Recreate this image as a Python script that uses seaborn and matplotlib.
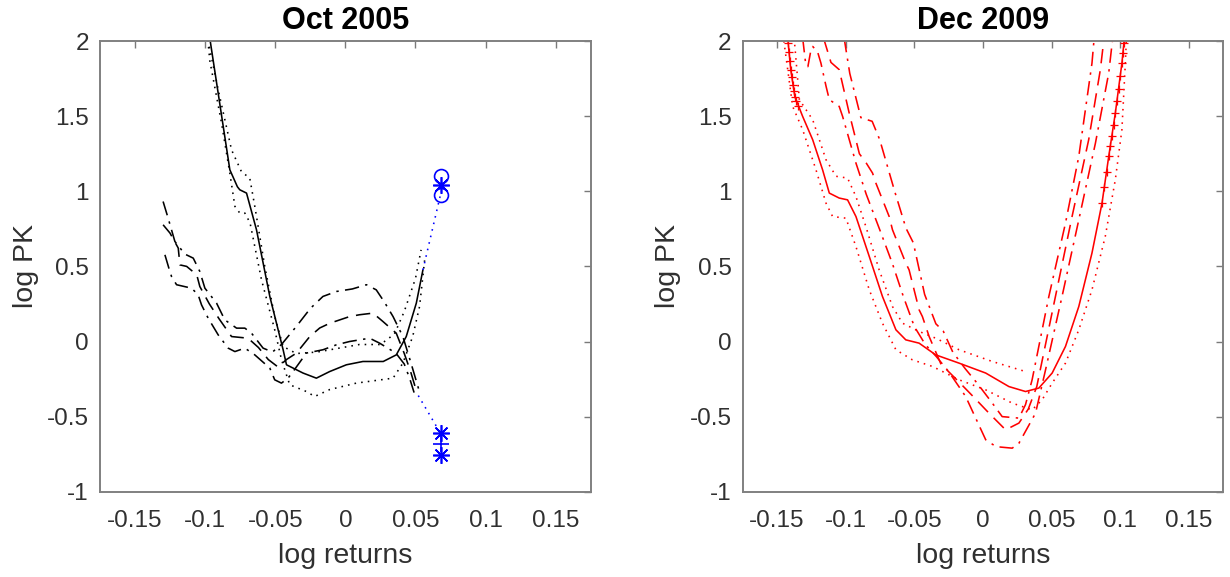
import matplotlib
matplotlib.use("Agg")
import matplotlib.pyplot as plt
import seaborn as sns

# ---------------- data: Oct 2005 (left) ----------------
oct_solid_x = [-0.0972, -0.0824, -0.0770, -0.0753, -0.0705, -0.0634, -0.0539, -0.0444, -0.0420, -0.0302,
               -0.0207, -0.0112, 0.0007, 0.0125, 0.0270, 0.0363, 0.0434, 0.0506, 0.0553]
oct_solid_y = [2.05, 1.143, 1.03, 1.01, 0.988, 0.744, 0.30, -0.055, -0.155, -0.21,
               -0.244, -0.20, -0.155, -0.133, -0.133, -0.089, 0.033, 0.256, 0.477]

oct_upper_x = [-0.0990, -0.0907, -0.0812, -0.0741, -0.0682, -0.0646, -0.0575, -0.0504, -0.0444, -0.0350,
               -0.0200, -0.0050, 0.0100, 0.0250, 0.0350, 0.0420, 0.0500, 0.0540]
oct_upper_y = [2.05, 1.676, 1.276, 1.13, 1.088, 0.90, 0.50, 0.166, -0.033, -0.08,
               -0.07, -0.045, -0.02, -0.02, 0.05, 0.20, 0.42, 0.61]

oct_lower_x = [-0.0985, -0.0967, -0.0883, -0.0824, -0.0788, -0.0753, -0.0717, -0.0680, -0.0598, -0.0504,
               -0.0456, -0.0397, -0.0278, -0.0219, -0.0112, 0.0078, 0.0340, 0.0410, 0.0480, 0.0529, 0.0565]
oct_lower_y = [2.05, 1.87, 1.453, 1.12, 0.90, 0.855, 0.855, 0.79, 0.41, 0.078,
               -0.12, -0.288, -0.333, -0.366, -0.32, -0.277, -0.244, -0.144, 0.033, 0.233, 0.54]

oct_m1_x = [-0.1300, -0.1264, -0.1216, -0.1145, -0.1085, -0.1038, -0.1002, -0.0919, -0.0860, -0.0776,
            -0.0717, -0.0670, -0.0587, -0.0520, -0.0456, -0.0350, -0.0250, -0.0160, -0.0064, 0.0050,
            0.0150, 0.0220, 0.0280, 0.0340, 0.0410, 0.0470, 0.0530]
oct_m1_y = [0.932, 0.821, 0.666, 0.582, 0.555, 0.466, 0.355, 0.256, 0.144, 0.089,
            0.089, 0.056, -0.044, -0.07, -0.02, 0.10, 0.22, 0.30, 0.333, 0.35,
            0.378, 0.344, 0.26, 0.166, 0.033, -0.15, -0.34]

oct_m2_x = [-0.1300, -0.1251, -0.1192, -0.1180, -0.1132, -0.1060, -0.1038, -0.0970, -0.0900, -0.0812,
            -0.0694, -0.0620, -0.0550, -0.0480, -0.0420, -0.0349, -0.0254, -0.0183, -0.0110, 0.0030,
            0.0100, 0.0197, 0.0268, 0.0363, 0.0420, 0.0465, 0.0510]
oct_m2_y = [0.777, 0.722, 0.622, 0.51, 0.50, 0.444, 0.366, 0.25, 0.15, 0.033,
            0.022, -0.04, -0.12, -0.17, -0.12, -0.077, 0.033, 0.09, 0.122, 0.166,
            0.178, 0.189, 0.133, 0.055, -0.08, -0.20, -0.34]

oct_m3_x = [-0.1287, -0.1259, -0.1240, -0.1204, -0.1097, -0.1050, -0.1026, -0.0979, -0.0943, -0.0907,
            -0.0836, -0.0788, -0.0717, -0.0646, -0.0539, -0.0504, -0.0456, -0.0409, -0.0373, -0.0278,
            -0.0160, -0.0064, 0.0030, 0.0173, 0.0244, 0.0360, 0.0420, 0.0460, 0.0490]
oct_m3_y = [0.577, 0.489, 0.433, 0.378, 0.355, 0.311, 0.244, 0.156, 0.10, 0.044,
            -0.044, -0.067, -0.044, -0.089, -0.177, -0.255, -0.277, -0.244, -0.20, -0.077,
            -0.055, -0.022, 0.0, 0.022, -0.011, -0.077, -0.15, -0.25, -0.34]

oct_ext_up_x = [0.0553, 0.0684]
oct_ext_up_y = [0.477, 1.0]
oct_ext_dn_x = [0.0520, 0.0684]
oct_ext_dn_y = [-0.36, -0.62]
oct_circ_x = [0.0684, 0.0684]
oct_circ_y = [1.10, 0.977]
oct_star_x = [0.0684, 0.0684, 0.0684]
oct_star_y = [1.043, -0.61, -0.754]
oct_plus_x = [0.0684]
oct_plus_y = [-0.68]

# ---------------- data: Dec 2009 (right) ----------------
dec_solid_x = [-0.1422, -0.1400, -0.1370, -0.1313, -0.1240, -0.1168, -0.1119, -0.1047, -0.0986, -0.0925,
               -0.0828, -0.0732, -0.0634, -0.0562, -0.0465, -0.0344, -0.0174, 0.0020, 0.0189, 0.0310,
               0.0407, 0.0504, 0.0601, 0.0698, 0.0794, 0.0867, 0.0916, 0.0964, 0.1012, 0.1030]
dec_solid_y = [2.02, 1.81, 1.63, 1.498, 1.343, 1.143, 0.988, 0.955, 0.943, 0.832,
               0.566, 0.30, 0.078, 0.011, -0.011, -0.089, -0.144, -0.21, -0.30, -0.333,
               -0.31, -0.21, -0.033, 0.233, 0.589, 0.921, 1.232, 1.52, 1.853, 2.02]

dec_upper_x = [-0.1375, -0.1337, -0.1240, -0.1143, -0.1070, -0.0986, -0.0925, -0.0853, -0.0756, -0.0659,
               -0.0586, -0.0465, -0.0344, -0.0174, 0.0068, 0.0310]
dec_upper_y = [2.02, 1.61, 1.476, 1.21, 1.10, 1.088, 0.965, 0.766, 0.477, 0.233,
               0.122, 0.067, 0.022, -0.055, -0.133, -0.20]

dec_lower_x = [-0.1450, -0.1386, -0.1313, -0.1216, -0.1143, -0.1095, -0.0998, -0.0925, -0.0828, -0.0732,
               -0.0634, -0.0514, -0.0368, -0.0174, 0.0020, 0.0213, 0.0358, 0.0431, 0.0504, 0.0601,
               0.0698, 0.0794, 0.0891, 0.0964, 0.1012, 0.1037, 0.1045]
dec_lower_y = [2.0, 1.565, 1.41, 1.143, 0.921, 0.832, 0.821, 0.632, 0.344, 0.122,
               -0.055, -0.122, -0.166, -0.255, -0.322, -0.41, -0.455, -0.388, -0.277, -0.144,
               0.078, 0.344, 0.70, 1.077, 1.41, 1.853, 2.02]

dec_m1_x = [-0.1011, -0.0970, -0.0889, -0.0807, -0.0752, -0.0643, -0.0561, -0.0507, -0.0425, -0.0343,
            -0.0289, -0.0220, -0.0130, -0.0040, 0.0068, 0.0140, 0.0262, 0.0310, 0.0358, 0.0480,
            0.0601, 0.0698, 0.0794, 0.0810]
dec_m1_y = [2.02, 1.785, 1.49, 1.466, 1.344, 1.0, 0.755, 0.657, 0.314, 0.118,
            0.069, -0.07, -0.18, -0.28, -0.41, -0.50, -0.51, -0.42, -0.255, 0.30,
            0.788, 1.232, 1.853, 2.02]

dec_m2_x = [-0.1161, -0.1107, -0.1047, -0.0974, -0.0900, -0.0850, -0.0804, -0.0780, -0.0683, -0.0659,
            -0.0562, -0.0538, -0.0465, -0.0441, -0.0392, -0.0306, -0.0174, -0.0078, 0.0044, 0.0165,
            0.0262, 0.0330, 0.0392, 0.0528, 0.0649, 0.0770, 0.0855, 0.0882]
dec_m2_y = [2.02, 1.858, 1.81, 1.52, 1.25, 1.188, 1.121, 1.055, 0.832, 0.744,
            0.522, 0.477, 0.211, 0.166, 0.033, -0.15, -0.27, -0.36, -0.477, -0.588,
            -0.543, -0.45, -0.30, 0.30, 0.832, 1.343, 1.81, 2.02]

dec_m3_x = [-0.1313, -0.1290, -0.1275, -0.1255, -0.1240, -0.1205, -0.1180, -0.1143, -0.1119, -0.1047,
            -0.1022, -0.0925, -0.0850, -0.0750, -0.0660, -0.0580, -0.0500, -0.0420, -0.0340, -0.0250,
            -0.0126, 0.0020, 0.0095, 0.0213, 0.0262, 0.0383, 0.0456, 0.0576, 0.0698, 0.0819,
            0.0916, 0.0945]
dec_m3_y = [2.02, 1.84, 1.83, 1.93, 1.964, 1.93, 1.853, 1.70, 1.61, 1.565,
            1.498, 1.188, 0.98, 0.74, 0.52, 0.30, 0.10, -0.02, -0.10, -0.20,
            -0.366, -0.654, -0.70, -0.71, -0.677, -0.477, -0.188, 0.30, 0.81, 1.32,
            1.787, 2.02]

dec_plus_x = [-0.1422, -0.1415, -0.1408, -0.1400, -0.1393, -0.1385, -0.1378, -0.1370, -0.1360, -0.1345,
              0.0867, 0.0885, 0.0900, 0.0916, 0.0928, 0.0940, 0.0952, 0.0964, 0.0976, 0.0988,
              0.1000, 0.1012, 0.1018, 0.1025]
dec_plus_y = [1.99, 1.93, 1.87, 1.81, 1.76, 1.71, 1.67, 1.63, 1.60, 1.57,
              0.921, 1.03, 1.13, 1.232, 1.30, 1.37, 1.44, 1.52, 1.60, 1.68,
              1.77, 1.853, 1.92, 1.987]

xticks = [-0.15, -0.1, -0.05, 0, 0.05, 0.1, 0.15]
xtick_labels = ["-0.15", "-0.1", "-0.05", "0", "0.05", "0.1", "0.15"]
yticks = [-1, -0.5, 0, 0.5, 1, 1.5, 2]
ytick_labels = ["-1", "-0.5", "0", "0.5", "1", "1.5", "2"]
titles = ["Oct 2005", "Dec 2009"]

# ---------------- styling ----------------
sns.set_theme(style="white")
plt.rcParams['font.family'] = ['Liberation Sans', 'DejaVu Sans']
plt.rcParams['axes.unicode_minus'] = False

DOT = (0, (1.0, 3.2))
DASH = (0, (9, 5))
DASHDOT = (0, (9, 4, 1.5, 4))
LW = 1.15


def draw(ax, x, y, color, ls, lw=LW, **kw):
    sns.lineplot(x=x, y=y, ax=ax, color=color, linestyle=ls, linewidth=lw,
                 sort=False, estimator=None, legend=False, **kw)


fig = plt.figure(figsize=(12.3, 5.77), dpi=100)
ax1 = fig.add_axes([0.0813, 0.1478, 0.399, 0.781])
ax2 = fig.add_axes([0.6038, 0.1478, 0.3907, 0.781])

# left panel
k = "black"
draw(ax1, oct_m1_x, oct_m1_y, k, DASHDOT)
draw(ax1, oct_m2_x, oct_m2_y, k, DASH)
draw(ax1, oct_m3_x, oct_m3_y, k, DASHDOT)
draw(ax1, oct_upper_x, oct_upper_y, k, DOT)
draw(ax1, oct_lower_x, oct_lower_y, k, DOT)
draw(ax1, oct_solid_x, oct_solid_y, k, "-")
b = "#0000ff"
draw(ax1, oct_ext_up_x, oct_ext_up_y, b, DOT)
draw(ax1, oct_ext_dn_x, oct_ext_dn_y, b, DOT)
draw(ax1, oct_circ_x, oct_circ_y, b, "", marker="o", markersize=10,
     markerfacecolor="none", markeredgecolor=b, markeredgewidth=1.2)
draw(ax1, oct_star_x, oct_star_y, b, "", marker=(8, 2, 0), markersize=12,
     markeredgecolor=b, markeredgewidth=1.2)
draw(ax1, oct_plus_x, oct_plus_y, b, "", marker="+", markersize=12,
     markeredgecolor=b, markeredgewidth=1.2)

# right panel
r = "#ff0000"
draw(ax2, dec_m1_x, dec_m1_y, r, DASHDOT)
draw(ax2, dec_m2_x, dec_m2_y, r, DASH)
draw(ax2, dec_m3_x, dec_m3_y, r, DASHDOT)
draw(ax2, dec_upper_x, dec_upper_y, r, DOT)
draw(ax2, dec_lower_x, dec_lower_y, r, DOT)
draw(ax2, dec_solid_x, dec_solid_y, r, "-")
draw(ax2, dec_plus_x, dec_plus_y, r, "", marker="+", markersize=6,
     markeredgecolor=r, markeredgewidth=0.9)

for ax, title in zip([ax1, ax2], titles):
    ax.set_xlim(-0.175, 0.175)
    ax.set_ylim(-1, 2)
    ax.set_xticks(xticks)
    ax.set_xticklabels(xtick_labels)
    ax.set_yticks(yticks)
    ax.set_yticklabels(ytick_labels)
    ax.tick_params(direction="in", length=5, width=1.0, top=True, right=True,
                   colors="#7a7a7a", labelcolor="#303030", labelsize=17.5)
    ax.tick_params(axis="x", pad=13)
    ax.tick_params(axis="y", pad=8)
    for sp in ax.spines.values():
        sp.set_visible(True)
        sp.set_color("#808080")
        sp.set_linewidth(1.4)
    ax.set_xlabel("log returns", fontsize=20.5, color="#303030", labelpad=8)
    ax.set_ylabel("log PK", fontsize=20.5, color="#303030", labelpad=6)
    ax.set_title(title, fontsize=22, fontweight="bold", color="black", pad=9)

fig.savefig("out.png", dpi=100)
